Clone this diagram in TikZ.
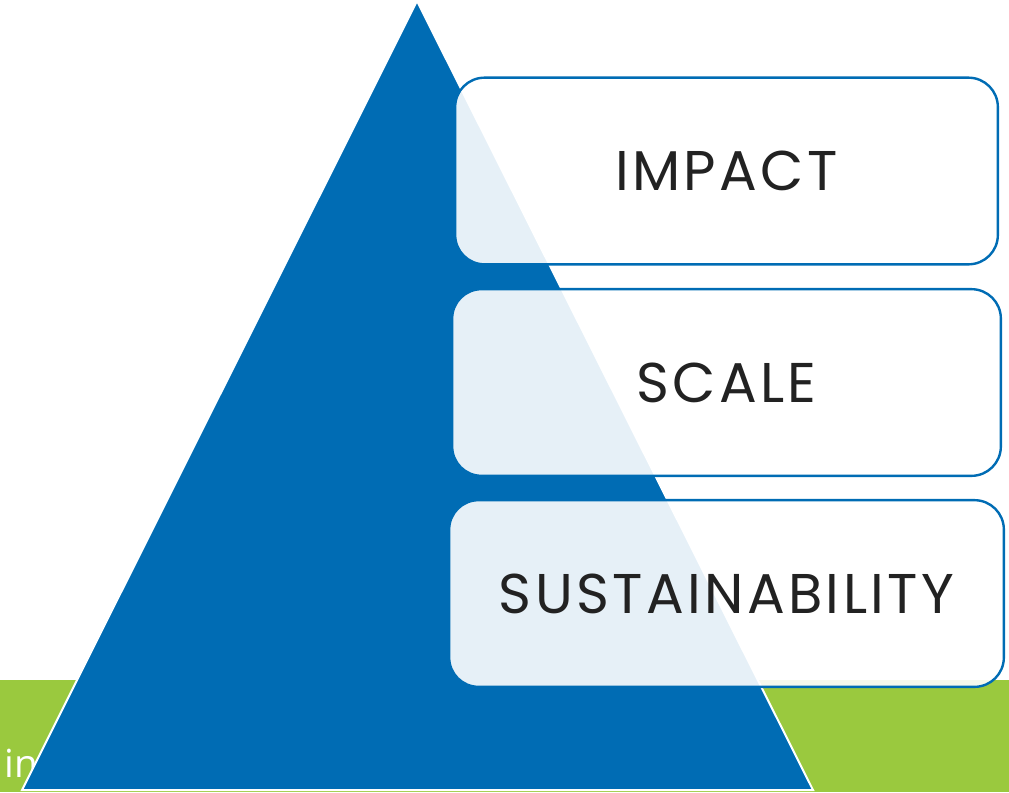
\documentclass[tikz,border=0pt]{standalone}
\usepackage{fontspec}
\setmainfont{Poppins}
\newfontfamily\opensans{Open Sans}
\usepackage{xcolor}
\usetikzlibrary{positioning,calc}

\definecolor{bleu}{HTML}{006CB4}
\definecolor{vert}{HTML}{9AC93E}
\definecolor{texte}{HTML}{222222}

\begin{document}
\begin{tikzpicture}[x=0.75pt,y=-0.75pt]

\tikzstyle{bande}=[fill=vert, draw=none]
\tikzstyle{pyramide}=[fill=bleu, draw=white, line width=1.5pt, line join=miter]
\tikzstyle{niveau}=[rectangle, draw=bleu, line width=1.8pt, fill=white, fill opacity=0.9, text opacity=1, rounded corners=22pt, minimum height=140pt, inner sep=0pt, text=texte, font=\fontsize{42}{42}\selectfont\addfontfeature{LetterSpace=6}]

\useasboundingbox (0,0) rectangle (1009,792);

%fond
\fill[bande] (0,680) rectangle (1009,792);
\node[anchor=base west, text=white, inner sep=0pt, font=\opensans\fontsize{29}{29}\selectfont] (mot) at (4,777) {in};

%pyramide
\coordinate (sommet) at (417,1);
\coordinate (gauche) at (22,790);
\coordinate (droite) at (813,790);
\draw[pyramide] (sommet) -- (gauche) -- (droite) -- cycle;

%placement des nœuds
\node[niveau, minimum width=407pt] (impact) at (726.5,171) {IMPACT};
\node[niveau, minimum width=411.5pt] (scale) at (726.5,382.5) {SCALE};
\node[niveau, minimum width=416pt] (durable) at (726.5,593.5) {SUSTAINABILITY};
\end{tikzpicture}
\end{document}
